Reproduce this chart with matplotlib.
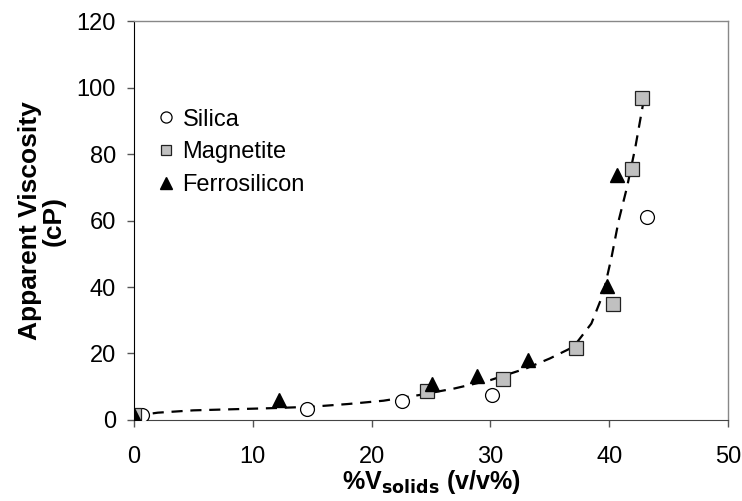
import matplotlib
matplotlib.use("Agg")
import matplotlib.pyplot as plt

plt.rcParams['font.family'] = ['Liberation Sans', 'DejaVu Sans']

silica_x = [0.7, 14.6, 22.6, 30.1, 43.2]
silica_y = [1.5, 3.4, 5.8, 7.6, 61.2]

magnetite_x = [0.0, 24.7, 31.1, 37.2, 40.3, 41.9, 42.8]
magnetite_y = [1.5, 8.8, 12.4, 21.8, 35.0, 75.5, 97.0]

ferro_x = [0.0, 12.2, 25.1, 28.9, 33.2, 39.8, 40.7]
ferro_y = [1.5, 6.0, 10.8, 13.2, 18.0, 40.2, 73.7]

trend_x = [0, 2, 5, 9, 12, 15, 18, 21, 24, 27, 30, 33, 35, 37, 38.5, 39.5, 40.2, 40.8, 41.5, 42.2, 42.9]
trend_y = [1.2, 2.2, 2.9, 3.3, 3.6, 4.0, 4.8, 5.8, 7.5, 9.5, 12.0, 15.5, 18.5, 22.0, 29.0, 38.0, 49.0, 60.0, 70.0, 82.0, 96.0]

xticks = [0, 10, 20, 30, 40, 50]
yticks = [0, 20, 40, 60, 80, 100, 120]

fig = plt.figure(figsize=(7.42, 5.01), dpi=100)
ax = fig.add_axes([0.1806, 0.1617, 0.8005, 0.7963])

ax.plot(trend_x, trend_y, color='black', linestyle=(0, (5, 3.5)), linewidth=1.6, zorder=2)
ax.plot(silica_x, silica_y, linestyle='none', marker='o', markersize=10,
        markerfacecolor='white', markeredgecolor='black', markeredgewidth=0.9, label='Silica', zorder=3)
ax.plot(magnetite_x, magnetite_y, linestyle='none', marker='s', markersize=9.5,
        markerfacecolor='#c0c0c0', markeredgecolor='#222222', markeredgewidth=0.9, label='Magnetite', zorder=3)
ax.plot(ferro_x, ferro_y, linestyle='none', marker='^', markersize=10.5,
        markerfacecolor='black', markeredgecolor='black', label='Ferrosilicon', zorder=4)

ax.set_xlim(0, 50)
ax.set_ylim(0, 120)
ax.set_xticks(xticks)
ax.set_yticks(yticks)
ax.tick_params(direction='out', length=5, width=1, labelsize=17, color='#555555')
ax.tick_params(axis='x', pad=14)
ax.tick_params(axis='y', pad=8)

for s in ['top', 'right']:
    ax.spines[s].set_color('#888888')
    ax.spines[s].set_linewidth(1)
ax.spines['left'].set_color('black')
ax.spines['bottom'].set_color('#444444')

ax.set_xlabel(r'%V$_{\mathbf{solids}}$ (v/v%)', fontsize=18, fontweight='bold', labelpad=0)
ax.set_ylabel('Apparent Viscosity\n(cP)', fontsize=19, fontweight='bold', linespacing=0.95, labelpad=8)

ax.legend(loc='upper left', bbox_to_anchor=(0.02, 0.81), frameon=False, fontsize=17,
          handlelength=0.7, handletextpad=0.35, labelspacing=0.45, borderpad=0.0, markerscale=0.8)

fig.savefig('out.png', dpi=100)
